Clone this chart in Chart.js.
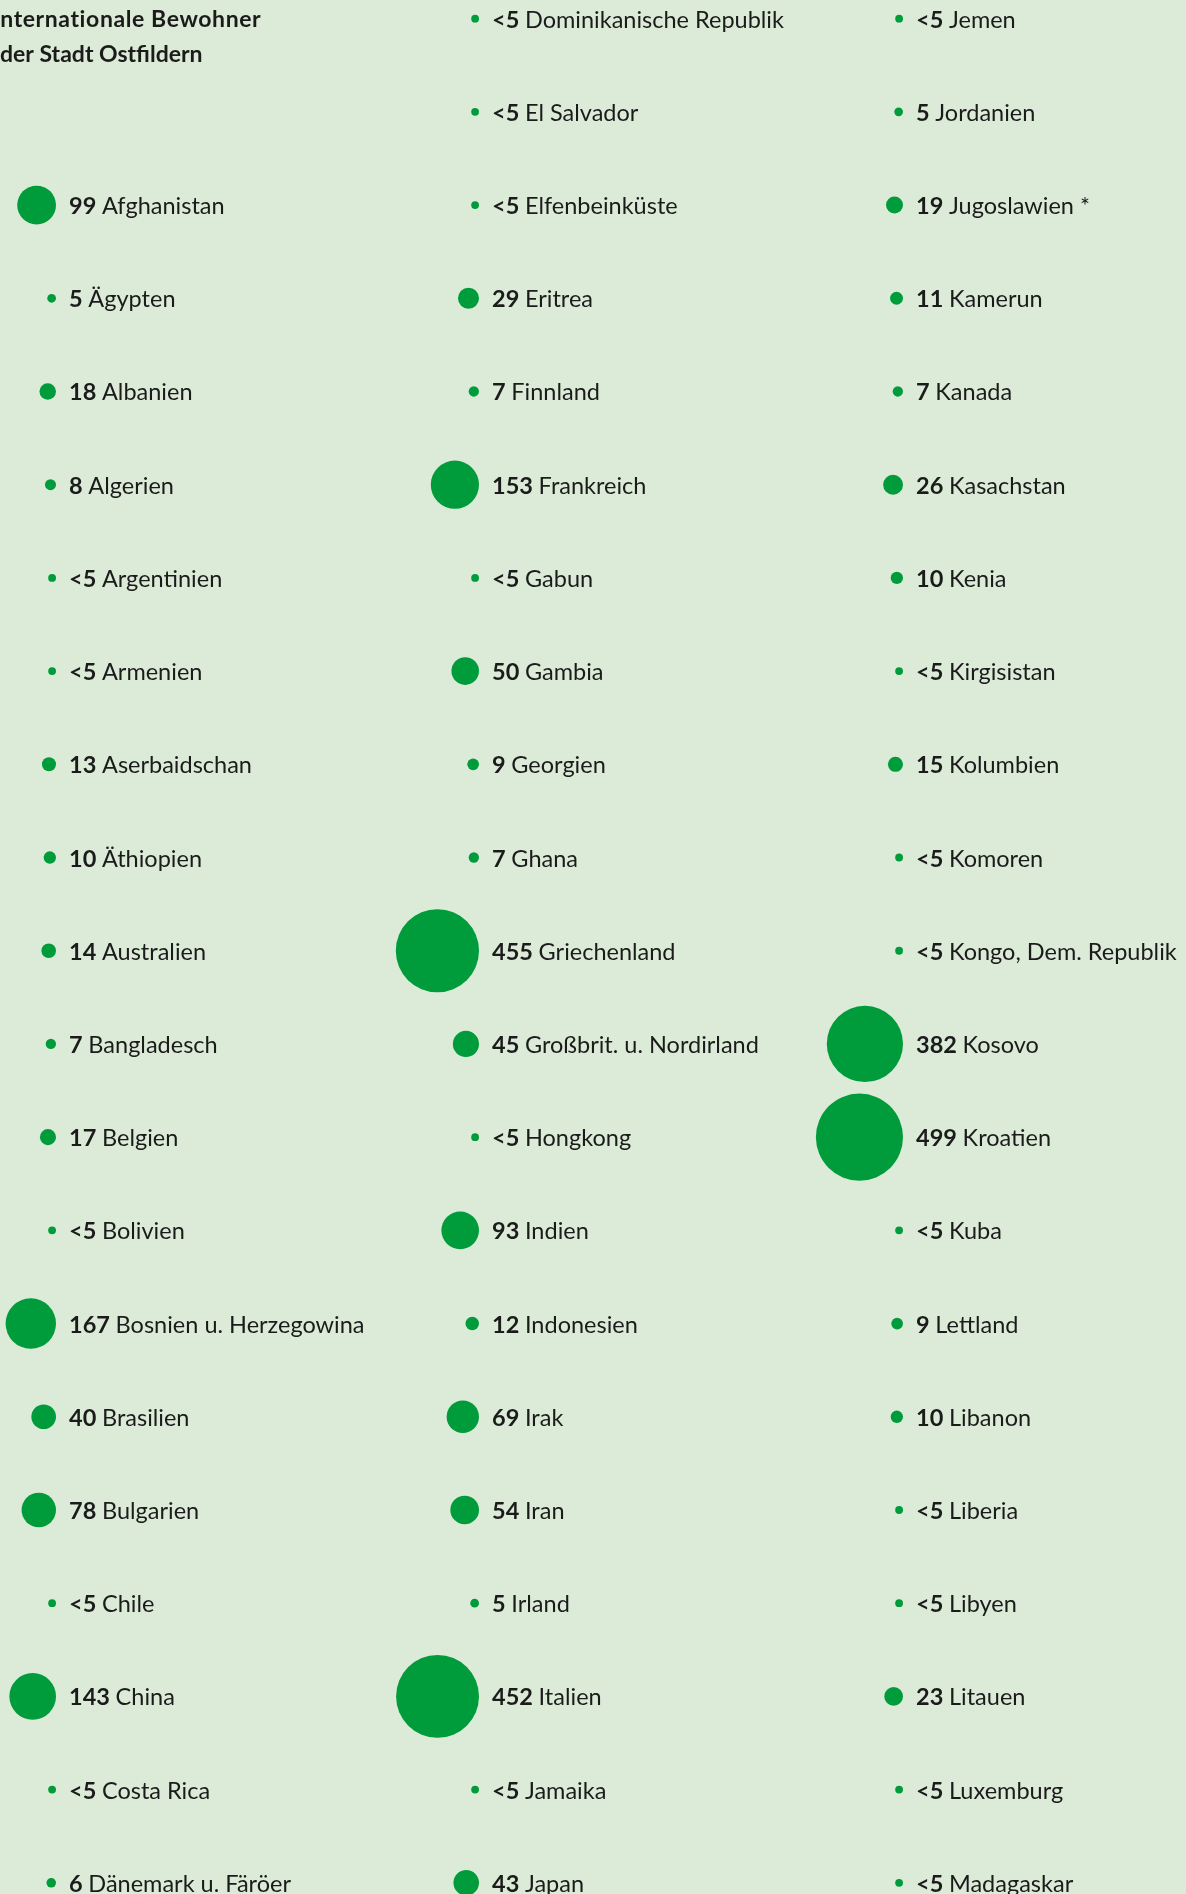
<!DOCTYPE html>
<html lang="de">
<head>
<meta charset="utf-8">
<title>Internationale Bewohner der Stadt Ostfildern</title>
<script src="https://cdn.jsdelivr.net/npm/chart.js@4.4.1/dist/chart.umd.min.js"></script>
<style>
    html, body { margin: 0; padding: 0; background: #dcebd8; overflow: hidden; }
    #wrap { position: relative; width: 1186px; height: 1894px; }
</style>
</head>
<body>
<div id="wrap"><canvas id="chart-bewohner"></canvas></div>
<script>
( function () {
    'use strict';

    // null = "<5" (kleiner als fünf)
    var countries = [
        'Afghanistan', 'Ägypten', 'Albanien', 'Algerien', 'Argentinien', 'Armenien',
        'Aserbaidschan', 'Äthiopien', 'Australien', 'Bangladesch', 'Belgien', 'Bolivien',
        'Bosnien u. Herzegowina', 'Brasilien', 'Bulgarien', 'Chile', 'China', 'Costa Rica',
        'Dänemark u. Färöer',
        'Dominikanische Republik', 'El Salvador', 'Elfenbeinküste', 'Eritrea', 'Finnland',
        'Frankreich', 'Gabun', 'Gambia', 'Georgien', 'Ghana', 'Griechenland',
        'Großbrit. u. Nordirland', 'Hongkong', 'Indien', 'Indonesien', 'Irak', 'Iran',
        'Irland', 'Italien', 'Jamaika', 'Japan',
        'Jemen', 'Jordanien', 'Jugoslawien *', 'Kamerun', 'Kanada', 'Kasachstan', 'Kenia',
        'Kirgisistan', 'Kolumbien', 'Komoren', 'Kongo, Dem. Republik', 'Kosovo', 'Kroatien',
        'Kuba', 'Lettland', 'Libanon', 'Liberia', 'Libyen', 'Litauen', 'Luxemburg', 'Madagaskar'
    ];
    var counts = [
        99, 5, 18, 8, null, null,
        13, 10, 14, 7, 17, null,
        167, 40, 78, null, 143, null,
        6,
        null, null, null, 29, 7,
        153, null, 50, 9, 7, 455,
        45, null, 93, 12, 69, 54,
        5, 452, null, 43,
        null, 5, 19, 11, 7, 26, 10,
        null, 15, null, null, 382, 499,
        null, 9, 10, null, null, 23, null, null
    ];
    var title = [ 'Internationale Bewohner', 'der Stadt Ostfildern' ];

    var SMALL_VALUE = 4;          // angenommene Größe für "<5"
    var RADIUS_K    = 1.95;       // Radius = k * sqrt(Wert)
    var columnText  = [ 69, 492, 916 ];
    var GAP         = 13;
    var FIRST_ROW   = [ 2, 0, 0 ];
    var PER_COLUMN  = [ 19, 21, 21 ];

    var green  = '#009b3a';
    var ink    = '#1b1b1b';
    var family = 'Lato, "Open Sans", sans-serif';

    var points = [];
    var idx = 0;
    for ( var c = 0; c < 3; c++ ) {
        for ( var k = 0; k < PER_COLUMN[ c ]; k++, idx++ ) {
            var v = counts[ idx ] === null ? SMALL_VALUE : counts[ idx ];
            var r = RADIUS_K * Math.sqrt( v );
            points.push( {
                x:     columnText[ c ] - GAP - r,
                y:     FIRST_ROW[ c ] + k,
                r:     r,
                col:   c,
                label: countries[ idx ],
                num:   counts[ idx ] === null ? '<5' : String( counts[ idx ] ),
            } );
        }
    }

    var labelPlugin = {
        id: 'rowLabels',
        afterDatasetsDraw: function ( chart ) {
            var ctx = chart.ctx;
            var xs = chart.scales.x, ys = chart.scales.y;
            ctx.save();
            ctx.fillStyle = ink;
            ctx.textBaseline = 'alphabetic';

            ctx.font = 'bold 23px ' + family;
            ctx.letterSpacing = '0.6px';
            ctx.fillText( title[ 0 ], xs.getPixelForValue( -7 ), 27 );
            ctx.letterSpacing = '0px';
            ctx.fillText( title[ 1 ], xs.getPixelForValue( 0 ), 62 );

            points.forEach( function ( p ) {
                var x = xs.getPixelForValue( columnText[ p.col ] );
                var y = ys.getPixelForValue( p.y ) + 9;
                ctx.font = 'bold 23.5px ' + family;
                ctx.fillText( p.num, x, y );
                var w = ctx.measureText( p.num + ' ' ).width;
                ctx.font = '23.5px ' + family;
                ctx.fillText( p.label, x + w, y );
            } );
            ctx.restore();
        },
    };

    function draw() {
        new Chart( document.getElementById( 'chart-bewohner' ), {
            type: 'bubble',
            data: {
                datasets: [ {
                    data:            points,
                    backgroundColor: green,
                    borderWidth:     0,
                    hoverRadius:     0,
                    clip:            false,
                } ],
            },
            options: {
                responsive:          true,
                maintainAspectRatio: false,
                animation:           false,
                events:              [],
                layout:  { padding: 0, autoPadding: false },
                plugins: {
                    legend:  { display: false },
                    tooltip: { enabled: false },
                },
                scales: {
                    x: { type: 'linear', display: false, min: 0, max: 1186 },
                    y: { type: 'linear', display: false, reverse: true, min: -0.2, max: 20.12 },
                },
            },
            plugins: [ labelPlugin ],
        } );
    }

    if ( document.fonts && document.fonts.load ) {
        Promise.all( [
            document.fonts.load( '23.5px Lato' ),
            document.fonts.load( 'bold 23.5px Lato' ),
        ] ).then( draw, draw );
    } else {
        draw();
    }
} )();
</script>
</body>
</html>
